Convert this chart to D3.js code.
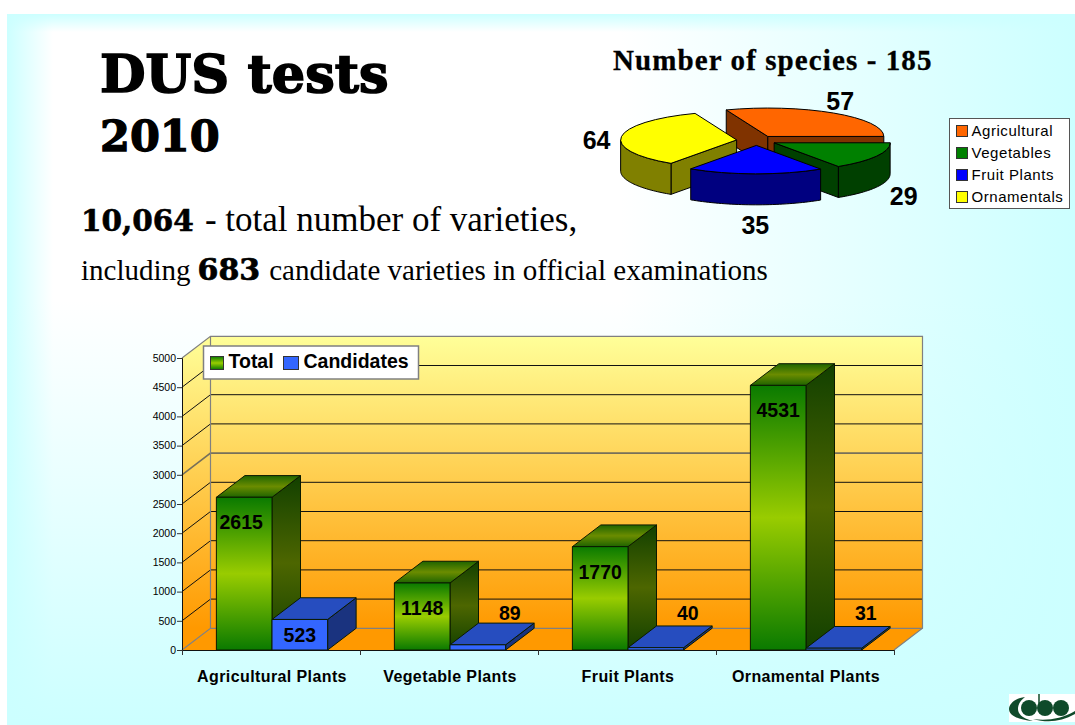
<!DOCTYPE html>
<html>
<head>
<meta charset="utf-8">
<script src="https://cdn.jsdelivr.net/npm/d3@7"></script>
<style>
	html, body { margin: 0; padding: 0; background: #fff; overflow: hidden; }
	svg { display: block; }
	text { font-family: "Liberation Sans", Arial, sans-serif; fill: #000; }
	.heavy { font-family: "DejaVu Serif", serif; font-weight: bold; stroke: #000; }
	.plain { font-family: "Liberation Serif", serif; }
</style>
</head>
<body>
<div id="chart"></div>
<script>
// bar chart data
const categories = ['Agricultural Plants', 'Vegetable Plants', 'Fruit Plants', 'Ornamental Plants'];
const seriesNames = ['Total', 'Candidates'];
const totalValues = [2615, 1148, 1770, 4531];
const candidateValues = [523, 89, 40, 31];
const yTicks = [0, 500, 1000, 1500, 2000, 2500, 3000, 3500, 4000, 4500, 5000];

// pie chart data
const speciesNames = ['Agricultural', 'Vegetables', 'Fruit Plants', 'Ornamentals'];
const speciesCounts = [57, 29, 35, 64];

const width = 1075;
const height = 725;
const svg = d3.select('#chart').append('svg').attr('width', width).attr('height', height);
const defs = svg.append('defs');

function gradient(id, stops, attrs) {
	let g = defs.append('linearGradient').attr('id', id)
		.attr('x1', 0).attr('y1', 0).attr('x2', 0).attr('y2', 1);
	Object.keys(attrs || {}).forEach(k => g.attr(k, attrs[k]));
	stops.forEach(s => {
		g.append('stop').attr('offset', s[0]).attr('stop-color', s[1]).attr('stop-opacity', s[2] === undefined ? 1 : s[2]);
	});
}

// slide background
const cyan = '#ccffff';
gradient('bgLeft', [[0, cyan], [1, cyan, 0]], { x2: 1, y2: 0 });
gradient('bgTop', [[0, cyan], [1, cyan, 0]]);
gradient('bgRight', [[0, cyan, 0], [1, cyan]], { x2: 1, y2: 0 });
gradient('bgBottom', [[0, cyan, 0], [1, cyan]]);
let bg = svg.append('g');
bg.append('rect').attr('x', 7).attr('y', 14).attr('width', width - 7).attr('height', height - 14).attr('fill', '#fff');
bg.append('rect').attr('x', 7).attr('y', 14).attr('width', 46).attr('height', height - 14).attr('fill', 'url(#bgLeft)');
bg.append('rect').attr('x', 7).attr('y', 14).attr('width', width - 7).attr('height', 18).attr('fill', 'url(#bgTop)');
bg.append('rect').attr('x', 620).attr('y', 14).attr('width', width - 620).attr('height', height - 14).attr('fill', 'url(#bgRight)');
bg.append('rect').attr('x', 7).attr('y', 300).attr('width', width - 7).attr('height', height - 300).attr('fill', 'url(#bgBottom)');

// headings
svg.append('text').attr('class', 'heavy').attr('x', 100).attr('y', 92).attr('font-size', 52.5)
	.attr('stroke-width', 1.6).text('DUS tests');
svg.append('text').attr('class', 'heavy').attr('x', 100).attr('y', 151).attr('font-size', 43)
	.attr('stroke-width', 1.3).text('2010');

let line1 = svg.append('text').attr('x', 81).attr('y', 231);
line1.append('tspan').attr('class', 'heavy').attr('font-size', 29.5).attr('stroke-width', 0.6).text('10,064');
line1.append('tspan').attr('class', 'plain').attr('font-size', 35).attr('dx', 11).text('- total number of varieties,');

let line2 = svg.append('text').attr('x', 81).attr('y', 280);
line2.append('tspan').attr('class', 'plain').attr('font-size', 29).text('including');
line2.append('tspan').attr('class', 'heavy').attr('font-size', 30).attr('dx', 7).attr('stroke-width', 0.7).text('683');
line2.append('tspan').attr('class', 'plain').attr('font-size', 29).attr('dx', 9).text('candidate varieties in official examinations');

svg.append('text').attr('class', 'plain').attr('x', 613).attr('y', 70).attr('font-size', 29)
	.attr('font-weight', 'bold').style('letter-spacing', '1.1px').attr('stroke', '#000').attr('stroke-width', 0.3)
	.text('Number of species - 185');

// ---- pie ----
const pieColors = ['#ff6600', '#008000', '#0000ff', '#ffff00'];
const pieSides = ['#803300', '#004000', '#000080', '#808000'];
const pieLabelR = [148, 167, 160, 161];
const pieX = 756.5, pieY = 140.5;
const pieRx = 116, pieSquash = 0.245, pieDepth = 31, pieExplode = 20;
const pieStart = -21 * Math.PI / 180;

let slices = d3.pie().sort(null).startAngle(pieStart).endAngle(pieStart + 2 * Math.PI)(speciesCounts);
// back slice first, then yellow, green and the front one
let drawOrder = [0, 3, 1, 2];
let topArc = d3.arc().innerRadius(0).outerRadius(pieRx);
let wallLine = d3.line();
let pieG = svg.append('g');

drawOrder.forEach(i => {
	let s = slices[i];
	let mid = (s.startAngle + s.endAngle) / 2;
	let ax = pieX + Math.sin(mid) * pieExplode;
	let ay = pieY - Math.cos(mid) * pieExplode * pieSquash;
	let pt = (a, drop) => [ax + Math.sin(a) * pieRx, ay - Math.cos(a) * pieRx * pieSquash + drop];
	let g = pieG.append('g').attr('stroke', '#000').attr('stroke-width', 1).attr('stroke-linejoin', 'round');

	// radial walls that face the viewer
	if (Math.sin(s.startAngle) < 0) {
		g.append('path').attr('fill', pieSides[i])
			.attr('d', wallLine([[ax, ay], pt(s.startAngle, 0), pt(s.startAngle, pieDepth), [ax, ay + pieDepth]]) + 'Z');
	}
	if (Math.sin(s.endAngle) > 0) {
		g.append('path').attr('fill', pieSides[i])
			.attr('d', wallLine([[ax, ay], pt(s.endAngle, 0), pt(s.endAngle, pieDepth), [ax, ay + pieDepth]]) + 'Z');
	}
	// outer wall, only the front half of the ellipse shows
	let a0 = Math.max(s.startAngle, Math.PI / 2);
	let a1 = Math.min(s.endAngle, 3 * Math.PI / 2);
	if (a1 > a0) {
		let angles = d3.range(0, 41).map(k => a0 + (a1 - a0) * k / 40);
		let upper = angles.map(a => pt(a, 0));
		let lower = angles.slice().reverse().map(a => pt(a, pieDepth));
		g.append('path').attr('fill', pieSides[i]).attr('d', wallLine(upper.concat(lower)) + 'Z');
	}
	g.append('path').attr('fill', pieColors[i])
		.attr('transform', 'translate(' + ax + ',' + ay + ') scale(1,' + pieSquash + ')')
		.attr('vector-effect', 'non-scaling-stroke')
		.attr('d', topArc(s));
});

pieG.selectAll('text.count')
	.data(slices)
	.enter().append('text')
	.attr('class', 'count')
	.attr('text-anchor', 'middle')
	.attr('font-size', 25)
	.attr('font-weight', 'bold')
	.attr('x', (d, i) => pieX + Math.sin((d.startAngle + d.endAngle) / 2) * pieLabelR[i])
	.attr('y', d => {
		let c = Math.cos((d.startAngle + d.endAngle) / 2);
		return pieY - c * 55 + (c < 0 ? pieDepth : 7) + 8;
	})
	.text(d => d.data);

// pie legend
let pieLegend = svg.append('g').attr('transform', 'translate(949.5,118.5)');
pieLegend.append('rect').attr('width', 120).attr('height', 90).attr('fill', '#fff').attr('stroke', '#555').attr('stroke-width', 1);
let pieItems = pieLegend.selectAll('g').data(speciesNames).enter().append('g')
	.attr('transform', (d, i) => 'translate(0,' + (7 + i * 22) + ')');
pieItems.append('rect').attr('x', 7).attr('width', 11).attr('height', 11)
	.attr('fill', (d, i) => pieColors[i]).attr('stroke', '#333').attr('stroke-width', 1);
pieItems.append('text').attr('x', 22).attr('y', 10.5).attr('font-size', 15).style('letter-spacing', '0.55px').text(d => d);

// ---- 3D bars ----
const left = 182, right = 894;
const x0 = d3.scaleBand().domain(categories).range([left + 1, right + 1]).paddingInner(0.375).paddingOuter(0.1875);
const x1 = d3.scaleBand().domain(seriesNames).range([0, x0.bandwidth()]);
const y = d3.scaleLinear().domain([0, 5000]).range([650, 358]);
const depthX = 28.5, depthY = 21.7;

gradient('wall', [[0, '#ffff99'], [1, '#ff9900']], {
	gradientUnits: 'userSpaceOnUse', x1: 0, y1: y(5000) - depthY, x2: 0, y2: y(0) - depthY
});
gradient('barFront', [[0, '#0a7a00'], [0.5, '#99cc00'], [1, '#0a7a00']]);
gradient('barTop', [[0, '#1f6400'], [0.5, '#6b8c00'], [1, '#1f6400']]);
gradient('barSide', [[0, '#124000'], [0.5, '#4d6600'], [1, '#124000']]);

const chart = svg.append('g');

function poly(points) {
	let p = d3.path();
	points.forEach((c, i) => i ? p.lineTo(c[0], c[1]) : p.moveTo(c[0], c[1]));
	p.closePath();
	return p.toString();
}

// walls and floor
chart.append('path').attr('fill', 'url(#wall)')
	.attr('d', poly([[left, y(5000)], [left + depthX, y(5000) - depthY], [left + depthX, y(0) - depthY], [left, y(0)]]));
chart.append('rect').attr('fill', 'url(#wall)')
	.attr('x', left + depthX).attr('y', y(5000) - depthY)
	.attr('width', right - left).attr('height', y(0) - y(5000));
chart.append('path').attr('fill', '#ff9900')
	.attr('d', poly([[left, y(0)], [left + depthX, y(0) - depthY], [right + depthX, y(0) - depthY], [right, y(0)]]));

// gridlines run along the side wall and the back wall
chart.append('g').selectAll('path')
	.data(yTicks.filter(t => t > 0 && t < 5000))
	.enter().append('path')
	.attr('fill', 'none')
	.attr('stroke', d => d == 3000 ? '#77705a' : '#111')
	.attr('stroke-width', d => d == 3000 ? 1.6 : 1)
	.attr('d', d => d3.line()([[left, y(d)], [left + depthX, y(d) - depthY], [right + depthX, y(d) - depthY]]));

// wall outline
chart.append('path').attr('fill', 'none').attr('stroke', '#808080').attr('stroke-width', 1.2)
	.attr('d', d3.line()([[left, y(5000)], [left + depthX, y(5000) - depthY], [right + depthX, y(5000) - depthY],
		[right + depthX, y(0) - depthY], [right, y(0)]]));
chart.append('path').attr('fill', 'none').attr('stroke', '#808080').attr('stroke-width', 1.2)
	.attr('d', d3.line()([[left, y(0)], [left + depthX, y(0) - depthY], [right + depthX, y(0) - depthY]]));
chart.append('path').attr('fill', 'none').attr('stroke', '#808080').attr('stroke-width', 1.2)
	.attr('d', d3.line()([[left + depthX, y(5000) - depthY], [left + depthX, y(0) - depthY]]));

// bars, left to right so nearer boxes overlap correctly
let barRows = [];
categories.forEach((c, i) => {
	barRows.push({ cat: c, series: 'Total', value: totalValues[i] });
	barRows.push({ cat: c, series: 'Candidates', value: candidateValues[i] });
});
let bars = chart.append('g').selectAll('g').data(barRows).enter().append('g')
	.attr('stroke', '#0b1a00').attr('stroke-width', 1).attr('stroke-linejoin', 'round');
let bx = d => x0(d.cat) + x1(d.series);
let bw = x1.bandwidth();

bars.append('path')
	.attr('fill', d => d.series == 'Total' ? 'url(#barSide)' : '#1a337f')
	.attr('d', d => poly([[bx(d) + bw, y(d.value)], [bx(d) + bw + depthX, y(d.value) - depthY],
		[bx(d) + bw + depthX, y(0) - depthY], [bx(d) + bw, y(0)]]));
bars.append('path')
	.attr('fill', d => d.series == 'Total' ? 'url(#barTop)' : '#264dbf')
	.attr('d', d => poly([[bx(d), y(d.value)], [bx(d) + depthX, y(d.value) - depthY],
		[bx(d) + bw + depthX, y(d.value) - depthY], [bx(d) + bw, y(d.value)]]));
bars.append('rect')
	.attr('fill', d => d.series == 'Total' ? 'url(#barFront)' : '#3366ff')
	.attr('x', bx).attr('y', d => y(d.value))
	.attr('width', bw).attr('height', d => y(0) - y(d.value));

// axes
let yAxis = chart.append('g').attr('transform', 'translate(' + left + ',0)')
	.call(d3.axisLeft(y).tickValues(yTicks).tickSize(5).tickPadding(1).tickFormat(d3.format('d')));
yAxis.selectAll('text').attr('font-size', 10.5).style('font-family', '"Liberation Sans"').attr('fill', '#222');
yAxis.selectAll('line').attr('stroke', '#333');
yAxis.select('.domain').attr('stroke', '#111');

let xAxis = chart.append('g').attr('transform', 'translate(0,' + y(0) + ')')
	.call(d3.axisBottom(d3.scaleLinear().domain([0, categories.length]).range([left, right]))
		.tickValues(d3.range(0, categories.length + 1)).tickSize(5).tickFormat(''));
xAxis.selectAll('line').attr('stroke', '#333');
xAxis.select('.domain').attr('stroke', '#111');

chart.selectAll('text.cat').data(categories).enter().append('text')
	.attr('class', 'cat')
	.attr('text-anchor', 'middle')
	.attr('font-size', 16)
	.attr('font-weight', 'bold')
	.style('letter-spacing', '0.4px')
	.attr('x', d => x0(d) + x0.bandwidth() / 2)
	.attr('y', 682)
	.text(d => d);

// value labels, small bars carry theirs behind the box
chart.selectAll('text.val').data(barRows).enter().append('text')
	.attr('class', 'val')
	.attr('text-anchor', 'middle')
	.attr('font-size', 19.5)
	.attr('font-weight', 'bold')
	.attr('x', d => bx(d) + bw / 2 + (d.value < 100 ? 32 : (d.value > 2000 && d.value < 3000 ? -3 : 0)))
	.attr('y', d => d.value < 100 ? y(0) - 30 : y(d.value) + Math.min(32, (y(0) - y(d.value)) * 0.75))
	.text(d => d.value);

// bar legend
let barLegend = svg.append('g').attr('transform', 'translate(203.5,346)');
gradient('swatchTotal', [[0, '#0a7a00'], [0.5, '#99cc00'], [1, '#0a7a00']]);
barLegend.append('rect').attr('width', 215).attr('height', 33).attr('fill', '#fff').attr('stroke', '#808080').attr('stroke-width', 1.5);
barLegend.append('rect').attr('x', 7).attr('y', 10.5).attr('width', 13).attr('height', 13)
	.attr('fill', 'url(#swatchTotal)').attr('stroke', '#333');
barLegend.append('text').attr('x', 25).attr('y', 22).attr('font-size', 19.5).attr('font-weight', 'bold').text(seriesNames[0]);
barLegend.append('rect').attr('x', 80).attr('y', 10.5).attr('width', 15).attr('height', 13)
	.attr('fill', '#3366ff').attr('stroke', '#333');
barLegend.append('text').attr('x', 100).attr('y', 22).attr('font-size', 19.5).attr('font-weight', 'bold').text(seriesNames[1]);

// logo in the corner
let logo = svg.append('g').attr('transform', 'translate(1009,694)');
logo.append('rect').attr('width', 66).attr('height', 28).attr('fill', '#fff');
logo.append('path').attr('fill', '#0f4a2a')
	.attr('d', 'M16,3 C6,4 0,10 0,15 C0,21 8,26 24,27 C12,24 9,19 9,15 C9,10 12,6 16,3Z');
logo.append('ellipse').attr('cx', 20).attr('cy', 14).attr('rx', 8).attr('ry', 8).attr('fill', '#0f4a2a');
logo.append('ellipse').attr('cx', 36).attr('cy', 14).attr('rx', 8).attr('ry', 8).attr('fill', '#0f4a2a');
logo.append('ellipse').attr('cx', 52).attr('cy', 14).attr('rx', 8).attr('ry', 8).attr('fill', '#0f4a2a');
logo.append('line').attr('x1', 30).attr('y1', 0).attr('x2', 30).attr('y2', 12).attr('stroke', '#0f4a2a').attr('stroke-width', 1.5);
logo.append('path').attr('fill', '#0f4a2a').attr('d', 'M24,25 C38,27 52,25 66,17 L66,20 C52,28 38,29 24,25Z');
</script>
</body>
</html>
